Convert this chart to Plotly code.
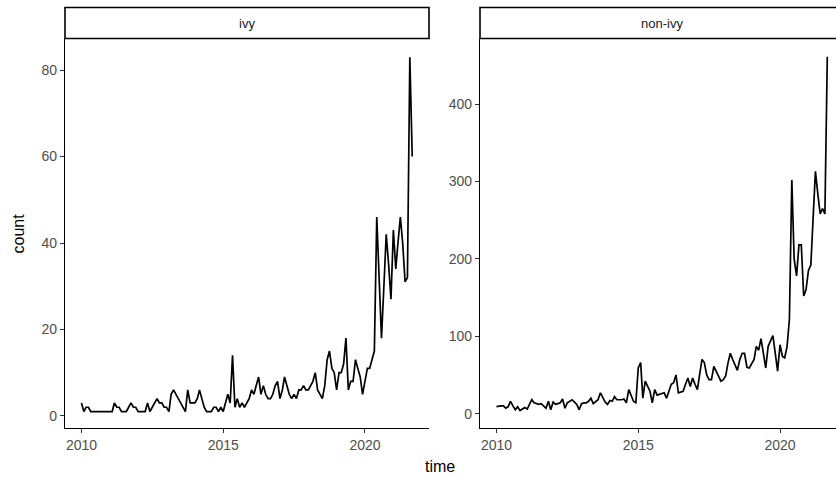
import pandas as pd
import plotly.graph_objects as go

# ---- data ----
months = pd.date_range("2010-01-01", periods=141, freq="MS")

ivy = [3, 1, 2, 2, 1, 1, 1, 1, 1, 1, 1, 1, 1, 1, 3, 2, 2, 1, 1, 1,
       2, 3, 2, 2, 1, 1, 1, 1, 3, 1, 2, 3, 4, 3, 3, 2, 2, 1, 5, 6,
       5, 4, 3, 2, 1, 6, 3, 3, 3, 4, 6, 4, 2, 1, 1, 1, 2, 2, 1, 2,
       1, 3, 5, 3, 14, 2, 4, 2, 3, 2, 3, 4, 6, 5, 7, 9, 5, 7, 5, 4,
       4, 5, 7, 8, 4, 6, 9, 7, 5, 4, 5, 4, 6, 6, 7, 6, 6, 7, 8, 10,
       6, 5, 4, 7, 13, 15, 11, 10, 6, 10, 10, 12, 18, 6, 8, 8, 13, 11, 9, 5,
       8, 11, 11, 13, 15, 46, 30, 18, 30, 42, 35, 27, 43, 34, 40, 46, 40, 31, 32, 83,
       60]

non_ivy = [9, 10, 10, 10, 7, 9, 16, 10, 5, 9, 4, 6, 8, 6, 12, 18, 14, 13, 12, 13,
           10, 7, 16, 5, 15, 12, 13, 14, 19, 7, 14, 16, 18, 15, 12, 5, 13, 14, 14, 16,
           20, 13, 16, 18, 27, 20, 15, 12, 17, 16, 22, 18, 18, 18, 19, 14, 31, 24, 16, 14,
           59, 66, 20, 42, 35, 29, 14, 31, 24, 25, 26, 27, 20, 30, 38, 40, 50, 27, 28, 29,
           38, 46, 35, 46, 38, 31, 50, 70, 66, 50, 44, 44, 61, 55, 50, 42, 44, 49, 65, 78,
           70, 62, 56, 70, 78, 78, 60, 59, 65, 70, 87, 82, 97, 80, 59, 87, 95, 101, 78, 55,
           89, 74, 72, 87, 122, 302, 200, 178, 218, 218, 152, 160, 185, 192, 250, 313, 285, 258, 265, 258,
           461]

panels = ["ivy", "non-ivy"]
x_ticks = ["2010-01-01", "2015-01-01", "2020-01-01"]
x_tick_labels = ["2010", "2015", "2020"]
ivy_ticks = [0, 20, 40, 60, 80]
non_ivy_ticks = [0, 100, 200, 300, 400]

W, H = 836, 481
FONT = "Liberation Sans, Arial, sans-serif"

def px_x(p):
    return p / W

def px_y(p):
    return 1 - p / H

fig = go.Figure()
fig.add_trace(go.Scatter(x=months, y=ivy, mode="lines",
                         line=dict(color="black", width=1.7),
                         xaxis="x", yaxis="y", showlegend=False))
fig.add_trace(go.Scatter(x=months, y=non_ivy, mode="lines",
                         line=dict(color="black", width=1.7),
                         xaxis="x2", yaxis="y2", showlegend=False))

panel_top, panel_bottom = 39, 428
left_l, left_r = 65, 429
right_l = 480

xrange_full = ["2009-06-03", "2022-04-05"]
xrange_right = ["2009-06-03", "2021-12-22"]

common_x = dict(type="date", showgrid=False, zeroline=False, showline=True,
                linecolor="black", linewidth=1.2, ticks="outside", ticklen=4,
                tickcolor="#333333", tickwidth=1.1,
                tickvals=x_ticks, ticktext=x_tick_labels,
                tickfont=dict(family=FONT, size=14, color="#4d4d4d"))
common_y = dict(showgrid=False, zeroline=False, showline=True,
                linecolor="black", linewidth=1.2, ticks="outside", ticklen=4,
                tickcolor="#333333", tickwidth=1.1,
                tickfont=dict(family=FONT, size=14, color="#4d4d4d"))

fig.update_layout(
    width=W, height=H,
    margin=dict(l=0, r=0, t=0, b=0),
    paper_bgcolor="white", plot_bgcolor="white",
    xaxis=dict(domain=[px_x(left_l), px_x(left_r)], range=xrange_full,
               anchor="y", **common_x),
    yaxis=dict(domain=[px_y(panel_bottom), px_y(panel_top)], range=[-2.8, 87.2],
               anchor="x", tickvals=ivy_ticks, **common_y),
    xaxis2=dict(domain=[px_x(right_l), 1.0], range=xrange_right,
                anchor="y2", **common_x),
    yaxis2=dict(domain=[px_y(panel_bottom), px_y(panel_top)], range=[-18.5, 484],
                anchor="x2", tickvals=non_ivy_ticks, **common_y),
)

# facet strips
strip_top, strip_bottom = 7.5, 38.5
shapes = []
annotations = []
for name, (l, r) in zip(panels, [(left_l, left_r), (right_l, right_l + 364)]):
    shapes.append(dict(type="rect", xref="paper", yref="paper",
                       x0=px_x(l), x1=px_x(r), y0=px_y(strip_bottom), y1=px_y(strip_top),
                       line=dict(color="black", width=1.6), fillcolor="white"))
    annotations.append(dict(text=name, xref="paper", yref="paper",
                            x=px_x((l + r) / 2), y=px_y((strip_top + strip_bottom) / 2),
                            showarrow=False, xanchor="center", yanchor="middle",
                            font=dict(family=FONT, size=13, color="#1a1a1a")))

annotations.append(dict(text="count", xref="paper", yref="paper",
                        x=px_x(18), y=px_y((panel_top + panel_bottom) / 2),
                        textangle=-90, showarrow=False, xanchor="center", yanchor="middle",
                        font=dict(family=FONT, size=16, color="black")))
annotations.append(dict(text="time", xref="paper", yref="paper",
                        x=px_x(440), y=px_y(466),
                        showarrow=False, xanchor="center", yanchor="middle",
                        font=dict(family=FONT, size=16, color="black")))

fig.update_layout(shapes=shapes, annotations=annotations)
fig.write_html("out.html")
